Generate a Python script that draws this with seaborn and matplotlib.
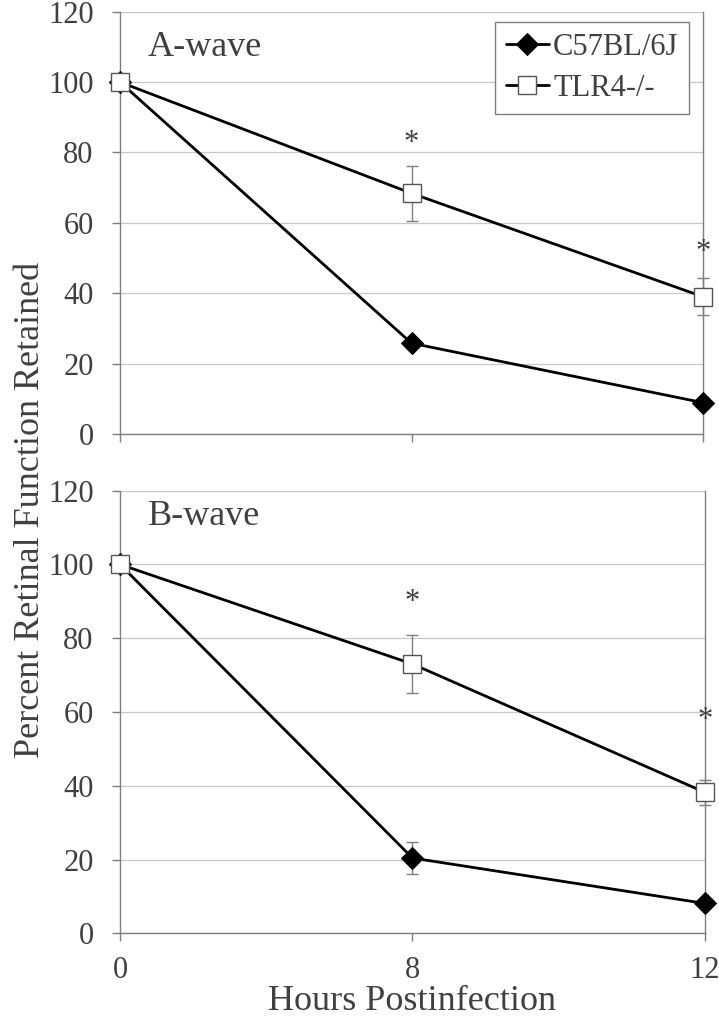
import numpy as np
import pandas as pd
import matplotlib
matplotlib.use('Agg')
import matplotlib.pyplot as plt
import seaborn as sns

# categories on the x axis (hours postinfection)
hours = ['0', '8', '12']
strains = ['C57BL/6J', 'TLR4-/-']

# A-wave
a_c57 = [100, 25.8, 8.9]
a_c57_err = [0, 1.5, 0]
a_tlr4 = [100, 68.4, 39.0]
a_tlr4_err = [0, 7.8, 5.2]
a_star_x = [1, 2]
a_star_y = [82.5, 51.5]

# B-wave
b_c57 = [100, 20.4, 8.1]
b_c57_err = [0, 4.3, 0]
b_tlr4 = [100, 73.0, 38.2]
b_tlr4_err = [0, 7.9, 3.4]
b_star_x = [1, 2]
b_star_y = [89.8, 57.6]

yticks = [0, 20, 40, 60, 80, 100, 120]

sns.set_theme(style='white')
plt.rcParams['font.family'] = ['Liberation Serif', 'DejaVu Serif']

AXIS_GRAY = '#7f7f7f'
GRID_GRAY = '#c8c8c8'
TEXT_GRAY = '#404040'


def draw_panel(ax, c57, c57_err, tlr4, tlr4_err, star_x, star_y, label, label_y, show_xlabels):
    pos = np.arange(len(hours))
    df = pd.DataFrame({
        'pos': np.concatenate([pos, pos]),
        'value': c57 + tlr4,
        'err': c57_err + tlr4_err,
        'strain': [strains[0]] * len(hours) + [strains[1]] * len(hours),
    })
    for y in yticks:
        ax.axhline(y, color=GRID_GRAY, lw=0.9, zorder=0)

    for name, sub in df.groupby('strain', sort=False):
        eb = ax.errorbar(sub['pos'], sub['value'], yerr=sub['err'], fmt='none',
                         ecolor=AXIS_GRAY, elinewidth=1.0, capsize=4.5, capthick=1.0,
                         zorder=2)
        for art in eb.lines[1] + eb.lines[2]:
            art.set_clip_on(False)

    c = df[df['strain'] == strains[0]]
    sns.lineplot(data=c, x='pos', y='value', ax=ax, color='black', lw=2.0,
                 marker='D', markersize=11, markerfacecolor='black',
                 markeredgecolor='black', label=strains[0], zorder=3,
                 clip_on=False)
    t = df[df['strain'] == strains[1]]
    sns.lineplot(data=t, x='pos', y='value', ax=ax, color='black', lw=2.0,
                 marker='s', markersize=13, markerfacecolor='white',
                 markeredgecolor='#555555', markeredgewidth=1.0,
                 label=strains[1], zorder=4, clip_on=False)

    for sx, sy in zip(star_x, star_y):
        ax.text(sx, sy, '*', ha='center', va='center', fontsize=22,
                color=TEXT_GRAY, zorder=5)

    ax.text(0.096, label_y, label, ha='left', va='center', fontsize=26,
            color=TEXT_GRAY)

    ax.set_xlim(0, 2)
    ax.set_ylim(0, 120)
    ax.set_xticks(pos)
    ax.set_xticklabels(hours if show_xlabels else [])
    ax.set_yticks(yticks)
    ax.set_xlabel('')
    ax.set_ylabel('')
    ax.tick_params(axis='both', direction='out', length=6, width=1,
                   color=AXIS_GRAY, labelsize=22, labelcolor=TEXT_GRAY,
                   left=True, bottom=True)
    ax.tick_params(axis='y', pad=13)
    ax.tick_params(axis='x', pad=10)
    for s in ['left', 'bottom', 'right']:
        ax.spines[s].set_visible(True)
        ax.spines[s].set_color(AXIS_GRAY)
        ax.spines[s].set_linewidth(1.0)
    ax.spines['top'].set_visible(False)
    if ax.get_legend():
        ax.get_legend().remove()


fig = plt.figure(figsize=(7.19, 10.19), dpi=100)
ax1 = fig.add_axes([0.1669, 0.5741, 0.8109, 0.4144])
ax2 = fig.add_axes([0.1669, 0.0841, 0.8136, 0.4344])

draw_panel(ax1, a_c57, a_c57_err, a_tlr4, a_tlr4_err, a_star_x, a_star_y,
           'A-wave', 109.7, False)
draw_panel(ax2, b_c57, b_c57_err, b_tlr4, b_tlr4_err, b_star_x, b_star_y,
           'B-wave', 113.0, True)

leg = ax1.legend(handles=[h for h in ax1.get_lines() if h.get_label() in strains],
                 labels=strains, loc='upper right', bbox_to_anchor=(0.976, 0.975),
                 fontsize=22, frameon=True, fancybox=False, framealpha=1,
                 edgecolor=AXIS_GRAY, handlelength=1.4, handletextpad=0.15,
                 borderpad=0.35, labelspacing=0.4, borderaxespad=0)
leg.get_frame().set_linewidth(1.0)
for txt in leg.get_texts():
    txt.set_color(TEXT_GRAY)

ax2.set_xlabel('Hours Postinfection', fontsize=26, color=TEXT_GRAY, labelpad=0)
fig.text(0.042, 0.5, 'Percent Retinal Function Retained', rotation=90,
         ha='center', va='center', fontsize=26, color=TEXT_GRAY)

fig.savefig('out.png', dpi=100)
